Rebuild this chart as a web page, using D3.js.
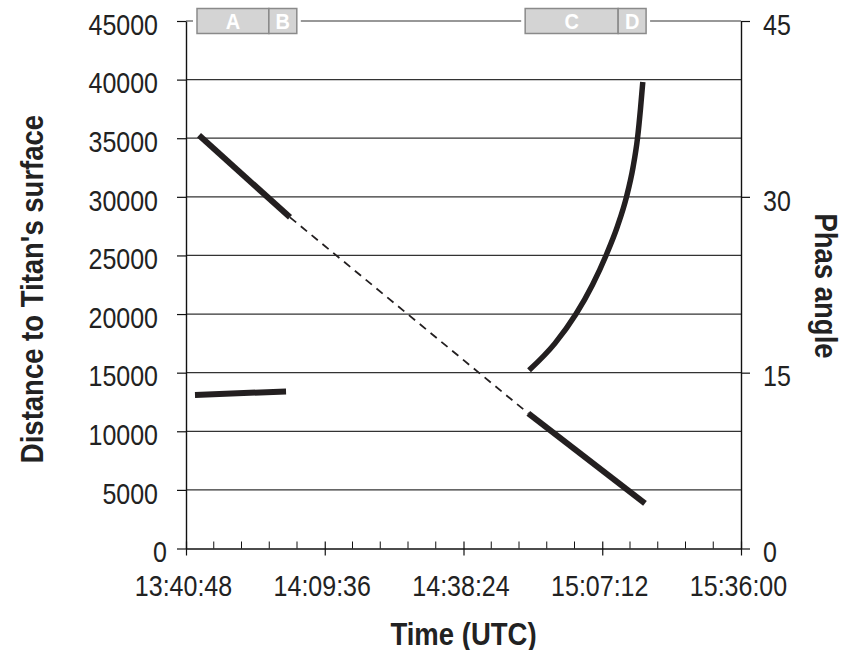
<!DOCTYPE html>
<html>
<head>
<meta charset="utf-8">
<script src="https://cdn.jsdelivr.net/npm/d3@7"></script>
<style>
  body { margin: 0; background: #fff; }
  svg { display: block; font-family: "Liberation Sans", Arial, sans-serif; }
</style>
</head>
<body>
<div id="chart"></div>
<script>
// tick labels / categories
const xTickLabels = ["13:40:48", "14:09:36", "14:38:24", "15:07:12", "15:36:00"];
const distTicks = [0, 5000, 10000, 15000, 20000, 25000, 30000, 35000, 40000, 45000];
const phaseTicks = [0, 15, 30, 45];

// distance to Titan's surface (km)
const distApproachTimes = ["13:43:30", "14:02:23"];
const distApproachKm = [35250, 28250];
const distGapTimes = ["14:02:23", "14:51:51"];
const distGapKm = [28250, 11530];
const distDepartTimes = ["14:51:51", "15:16:04"];
const distDepartKm = [11530, 3860];

// phase angle (deg)
const phaseApproachTimes = ["13:42:40", "14:01:34"];
const phaseApproachDeg = [13.1, 13.4];
const phaseDepartTimes = ["14:52:00", "14:57:23", "15:01:45", "15:05:11", "15:07:59", "15:10:22",
                          "15:12:14", "15:13:35", "15:14:31", "15:15:08", "15:15:37"];
const phaseDepartDeg = [15.2, 17.5, 20.0, 22.5, 25.0, 27.5, 30.0, 32.5, 35.0, 37.5, 39.8];

// observation sequences drawn along the top
const seqLabels = ["A", "B", "C", "D"];
const seqStart = ["13:43:05", "13:58:00", "14:51:12", "15:10:30"];
const seqEnd = ["13:58:00", "14:03:48", "15:10:30", "15:16:18"];

const parseTime = d3.timeParse("%H:%M:%S");
const width = 851, height = 650;
const plot = { left: 186, right: 741, top: 21, bottom: 548.5 };
const ink = "#231f20";
const textColor = "#222";

const svg = d3.select("#chart").append("svg")
  .attr("width", width)
  .attr("height", height);

const majors = xTickLabels.map(parseTime);
const x = d3.scaleTime().domain([majors[0], majors[majors.length - 1]]).range([plot.left, plot.right]);
const yDist = d3.scaleLinear().domain([0, 45000]).range([plot.bottom, plot.top]);
const yPhase = d3.scaleLinear().domain([0, 45]).range([plot.bottom, plot.top]);

// gridlines
svg.append("g").selectAll("line")
  .data(distTicks.filter(d => d > 0))
  .join("line")
  .attr("x1", plot.left).attr("x2", plot.right)
  .attr("y1", d => yDist(d)).attr("y2", d => yDist(d))
  .attr("stroke", "#333")
  .attr("stroke-width", 1.2);

// x axis
const xAxis = svg.append("g")
  .attr("transform", `translate(0,${plot.bottom})`)
  .call(d3.axisBottom(x).tickValues(majors).tickFormat(d3.timeFormat("%H:%M:%S")).tickSize(7).tickSizeOuter(0));
xAxis.selectAll(".tick line").attr("y1", -7).attr("y2", 7);
xAxis.selectAll(".tick text")
  .attr("y", 41.3).attr("dy", 0).attr("x", -3)
  .attr("transform", "scale(1,1.15)");

const minors = [];
for (let i = 0; i < majors.length - 1; i++) {
  const a = +majors[i], b = +majors[i + 1];
  for (let k = 1; k < 5; k++) minors.push(new Date(a + (b - a) * k / 5));
}
xAxis.append("g").selectAll("line")
  .data(minors)
  .join("line")
  .attr("x1", d => x(d)).attr("x2", d => x(d))
  .attr("y1", -7).attr("y2", 0)
  .attr("stroke", "#111");

// left axis
const yAxisL = svg.append("g")
  .attr("transform", `translate(${plot.left},0)`)
  .call(d3.axisLeft(yDist).tickValues(distTicks).tickFormat(d3.format("d")).tickSize(9).tickPadding(19).tickSizeOuter(0));
yAxisL.selectAll(".tick text")
  .attr("dy", "0.46em")
  .attr("dx", d => d === 0 ? 9 : 0)
  .attr("transform", "scale(1,1.15)");

// right axis
const yAxisR = svg.append("g")
  .attr("transform", `translate(${plot.right},0)`)
  .call(d3.axisRight(yPhase).tickValues(phaseTicks).tickSize(9).tickPadding(13).tickSizeOuter(0));
yAxisR.selectAll(".tick text")
  .attr("dy", "0.46em")
  .attr("transform", "scale(1,1.15)");

[xAxis, yAxisL, yAxisR].forEach(g => {
  g.attr("font-size", 25).attr("font-family", "Liberation Sans, Arial, sans-serif");
  g.select(".domain").attr("stroke", "#111").attr("stroke-width", 1.4);
  g.selectAll(".tick line").attr("stroke", "#111").attr("stroke-width", 1.2);
  g.selectAll(".tick text").attr("fill", textColor);
});

// sequence boxes along the top gridline
const seqs = seqLabels.map((s, i) => ({ label: s, x0: x(parseTime(seqStart[i])), x1: x(parseTime(seqEnd[i])) }));
const boxY = yDist(45000) - 12.5;
const boxes = svg.append("g");
boxes.selectAll("rect.pad")
  .data(seqs)
  .join("rect")
  .attr("class", "pad")
  .attr("x", d => d.x0 - 4).attr("width", d => d.x1 - d.x0 + 8)
  .attr("y", boxY - 3).attr("height", 31)
  .attr("fill", "#fff");
boxes.selectAll("rect.box")
  .data(seqs)
  .join("rect")
  .attr("class", "box")
  .attr("x", d => d.x0).attr("width", d => d.x1 - d.x0)
  .attr("y", boxY).attr("height", 25)
  .attr("fill", "#d4d4d4")
  .attr("stroke", "#8a8a8a")
  .attr("stroke-width", 1.5);
boxes.selectAll("text")
  .data(seqs)
  .join("text")
  .attr("transform", d => `translate(${(d.x0 + d.x1) / 2},${boxY + 20.5}) scale(1,1.1)`)
  .attr("text-anchor", "middle")
  .attr("font-size", 20)
  .attr("font-weight", "bold")
  .attr("fill", "#fff")
  .text(d => d.label);

// series
const zip = (ts, vs) => ts.map((t, i) => ({ t: parseTime(t), v: vs[i] }));
const distLine = d3.line().x(d => x(d.t)).y(d => yDist(d.v));
const phaseLine = d3.line().x(d => x(d.t)).y(d => yPhase(d.v)).curve(d3.curveMonotoneX);

svg.append("path")
  .attr("d", distLine(zip(distGapTimes, distGapKm)))
  .attr("fill", "none").attr("stroke", ink)
  .attr("stroke-width", 1.8).attr("stroke-dasharray", "8,6");
svg.append("path")
  .attr("d", distLine(zip(distApproachTimes, distApproachKm)))
  .attr("fill", "none").attr("stroke", ink).attr("stroke-width", 6);
svg.append("path")
  .attr("d", distLine(zip(distDepartTimes, distDepartKm)))
  .attr("fill", "none").attr("stroke", ink).attr("stroke-width", 6);
svg.append("path")
  .attr("d", phaseLine(zip(phaseApproachTimes, phaseApproachDeg)))
  .attr("fill", "none").attr("stroke", ink).attr("stroke-width", 6);
svg.append("path")
  .attr("d", phaseLine(zip(phaseDepartTimes, phaseDepartDeg)))
  .attr("fill", "none").attr("stroke", ink).attr("stroke-width", 5.5);

// axis titles
const title = (tr, txt) => svg.append("text")
  .attr("transform", tr)
  .attr("text-anchor", "middle")
  .attr("font-size", 27.5)
  .attr("font-weight", "bold")
  .attr("fill", textColor)
  .text(txt);
title(`translate(${(plot.left + plot.right) / 2},645) scale(1,1.15)`, "Time (UTC)");
title("translate(43,289) rotate(-90) scale(1,1.15)", "Distance to Titan's surface");
title("translate(815,286) rotate(90) scale(1,1.15)", "Phas angle");
</script>
</body>
</html>
